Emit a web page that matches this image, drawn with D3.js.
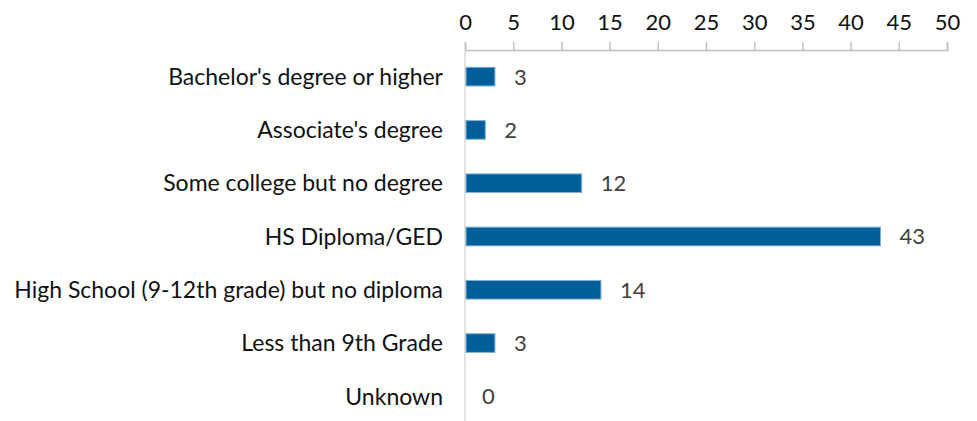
<!DOCTYPE html>
<html>
<head>
<meta charset="utf-8">
<script src="https://cdn.jsdelivr.net/npm/d3@7"></script>
<style>
  body { margin: 0; background: #fff; }
  svg text { font-family: "Lato", "Open Sans", sans-serif; }
</style>
</head>
<body>
<div id="chart"></div>
<script>
var categories = [
  "Bachelor's degree or higher",
  "Associate's degree",
  "Some college but no degree",
  "HS Diploma/GED",
  "High School (9-12th grade) but no diploma",
  "Less than 9th Grade",
  "Unknown"
];
var values = [3, 2, 12, 43, 14, 3, 0];
var tickValues = [0, 5, 10, 15, 20, 25, 30, 35, 40, 45, 50];

var width = 977, height = 421;
var margin = {top: 50, right: 30, bottom: 0, left: 465};

var svg = d3.select("#chart")
    .append("svg")
        .attr("width", width)
        .attr("height", height);

var x = d3.scaleLinear().domain([0, 50]).range([margin.left, 947]);
var y = d3.scaleBand().domain(categories).range([margin.top, 423]).paddingInner(0.65).paddingOuter(0.325);

// top axis
var xAxis = d3.axisTop(x).tickValues(tickValues).tickSize(8).tickSizeOuter(8).tickPadding(12);
var gx = svg.append("g")
    .attr("transform", "translate(0," + margin.top + ")")
    .call(xAxis);
gx.select(".domain").attr("stroke", "#bfbfbf").attr("stroke-width", 1.5);
gx.selectAll(".tick line").attr("stroke", "#bfbfbf").attr("stroke-width", 1.5);
gx.selectAll(".tick text").attr("fill", "#111").style("font-size", "22px");

// vertical category axis line
svg.append("line")
    .attr("x1", x(0)).attr("x2", x(0))
    .attr("y1", margin.top).attr("y2", 423)
    .attr("stroke", "#d9d9d9").attr("stroke-width", 1.5);

// bars
svg.selectAll(".bar")
    .data(values)
    .enter()
    .append("rect")
        .attr("class", "bar")
        .attr("x", x(0) + 1)
        .attr("y", function(d, i) { return y(categories[i]); })
        .attr("width", function(d) { return Math.max(0, x(d) - x(0)); })
        .attr("height", y.bandwidth())
        .attr("fill", "#005f9b")
        .attr("stroke", "#7fb0d0")
        .attr("stroke-width", function(d) { return d > 0 ? 1 : 0; });

// value labels
svg.selectAll(".val")
    .data(values)
    .enter()
    .append("text")
        .attr("class", "val")
        .attr("x", function(d) { return x(d) + (d > 0 ? 20 : 17); })
        .attr("y", function(d, i) { return y(categories[i]) + y.bandwidth() / 2; })
        .attr("dy", "0.36em")
        .attr("fill", "#404040")
        .style("font-size", "22px")
        .text(function(d) { return d; });

// category labels
svg.selectAll(".cat")
    .data(categories)
    .enter()
    .append("text")
        .attr("class", "cat")
        .attr("x", x(0) - 22)
        .attr("y", function(d) { return y(d) + y.bandwidth() / 2; })
        .attr("dy", "0.36em")
        .attr("text-anchor", "end")
        .attr("fill", "#111")
        .style("font-size", "23px")
        .text(function(d) { return d; });
</script>
</body>
</html>
